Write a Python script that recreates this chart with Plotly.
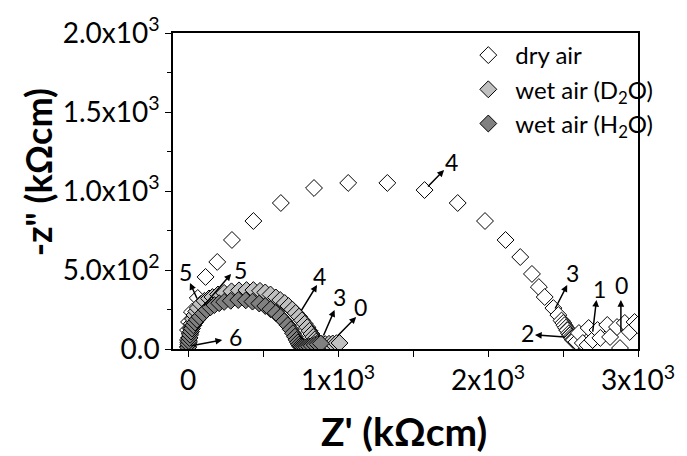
import plotly.graph_objects as go

# ---- data ----
dry_x = [0, 0, 7, 26, 65, 117, 195, 293, 436, 619, 840, 1068, 1329, 1577, 1798, 1980,
         2117, 2215, 2293, 2339, 2378, 2436, 2469, 2490, 2502, 2510, 2520, 2528, 2530,
         2540, 2547, 2548, 2555, 2560, 2562, 2567, 2570, 2573, 2590, 2606, 2632, 2664,
         2671, 2697, 2730, 2749, 2795, 2814, 2860, 2880, 2912, 2945, 2977, 2997]
dry_y = [57, 120, 171, 234, 323, 456, 551, 690, 810, 924, 1019, 1051, 1051, 1006, 924, 810,
         690, 582, 475, 392, 329, 259, 215, 180, 165, 150, 135, 120, 118,
         100, 89, 88, 78, 70, 68, 57, 60, 57, 45, 101, 38, 25,
         133, 57, 120, 70, 152, 76, 139, 6, 165, 108, 171, 152]

d2o_x = [0, 3, 7, 12, 18, 25, 33, 43, 55, 65, 85, 110, 140, 163, 200, 241, 290, 340, 390,
         436, 480, 515, 550, 586, 615, 645, 670, 695, 718, 740, 760, 778, 795, 810, 823,
         835, 845, 855, 865, 878, 895, 915, 940, 965, 990, 1010]
d2o_y = [15, 40, 70, 100, 130, 160, 190, 215, 238, 259, 285, 305, 320, 329, 345, 355, 365,
         371, 373, 373, 368, 358, 345, 326, 310, 291, 272, 250, 228, 205, 182, 160, 138,
         115, 95, 76, 60, 47, 38, 32, 30, 31, 33, 35, 37, 38]

h2o_x = [1, 3, 6, 10, 14, 20, 27, 36, 47, 60, 78, 100, 124, 150, 176, 208, 241, 285, 335,
         385, 430, 475, 515, 550, 585, 615, 642, 665, 685, 700, 713, 724, 733, 741, 748,
         755, 765, 778, 792, 808, 825, 845, 865, 885]
h2o_y = [10, 30, 50, 70, 90, 110, 130, 150, 168, 185, 203, 225, 247, 264, 278, 290, 298,
         305, 310, 308, 300, 288, 272, 252, 228, 203, 176, 150, 124, 100, 78, 58, 42, 28,
         18, 12, 10, 10, 12, 15, 20, 25, 30, 35]

series_names = ["dry air", "wet air (D<sub>2</sub>O)", "wet air (H<sub>2</sub>O)"]
series_colors = ["white", "#c0c0c0", "#808080"]

x_tickvals = [0, 1000, 2000, 3000]
x_ticktext = ["0", "1x10<sup>3</sup>", "2x10<sup>3</sup>", "3x10<sup>3</sup>"]
y_tickvals = [0, 500, 1000, 1500, 2000]
y_ticktext = ["0.0", "5.0x10<sup>2</sup>", "1.0x10<sup>3</sup>", "1.5x10<sup>3</sup>", "2.0x10<sup>3</sup>"]

# labels: text, text position, arrow tail, arrow head (data units)
lab_text = ["4", "5", "5", "4", "3", "0", "6", "3", "1", "0", "2"]
lab_x = [1759, -20, 352, 879, 1010, 1147, 319, 2560, 2743, 2893, 2261]
lab_y = [1184, 487, 500, 462, 329, 266, 76, 481, 380, 405, 101]
tail_x = [1590, 65, 98, 749, 899, 990, 13, 2443, 2697, 2886, 2521]
tail_y = [1019, 310, 266, 234, 76, 76, 19, 247, 101, 101, 76]
head_x = [1707, 13, 287, 860, 977, 1121, 228, 2528, 2723, 2886, 2313]
head_y = [1133, 418, 475, 405, 247, 203, 57, 405, 310, 310, 89]

FONT = "Lato"

fig = go.Figure()
for xs, ys, name, col in zip([dry_x, d2o_x, h2o_x], [dry_y, d2o_y, h2o_y],
                             series_names, series_colors):
    fig.add_trace(go.Scatter(
        x=xs, y=ys, mode="markers", name=name,
        marker=dict(symbol="diamond", size=13, color=col,
                    line=dict(color="black", width=1)),
    ))

annotations = []
for t, lx, ly in zip(lab_text, lab_x, lab_y):
    annotations.append(dict(x=lx, y=ly, xref="x", yref="y", text=t, showarrow=False,
                            font=dict(family=FONT, size=23, color="black")))
for tx, ty, hx, hy in zip(tail_x, tail_y, head_x, head_y):
    annotations.append(dict(x=hx, y=hy, ax=tx, ay=ty, xref="x", yref="y",
                            axref="x", ayref="y", text="", showarrow=True,
                            arrowhead=2, arrowsize=0.9, arrowwidth=1.5,
                            arrowcolor="black", standoff=0, startstandoff=0))

annotations.append(dict(x=-0.29, y=0.56, xref="paper", yref="paper",
                        text="<b>-z\" (k\u03a9cm)</b>", textangle=-90, showarrow=False,
                        xanchor="center", yanchor="middle",
                        font=dict(family=FONT, size=36, color="black")))
annotations.append(dict(x=0.497, y=-0.26, xref="paper", yref="paper",
                        text="<b>Z' (k\u03a9cm)</b>", showarrow=False,
                        xanchor="center", yanchor="middle",
                        font=dict(family=FONT, size=39, color="black")))

fig.update_layout(
    width=687, height=456,
    margin=dict(l=173, r=39, t=33, b=107),
    plot_bgcolor="white", paper_bgcolor="white",
    font=dict(family=FONT, size=28, color="black"),
    showlegend=True,
    legend=dict(x=0.62, y=1.0, xanchor="left", yanchor="top",
                bgcolor="rgba(0,0,0,0)", font=dict(family=FONT, size=24),
                itemwidth=44, tracegroupgap=0),
    annotations=annotations,
)
fig.update_xaxes(range=[-100, 3000], tickmode="array", tickvals=x_tickvals, ticktext=x_ticktext,
                 ticks="outside", ticklen=6, tickwidth=1.2, tickcolor="black",
                 showline=True, linecolor="black", linewidth=1.5, mirror=True,
                 showgrid=False, zeroline=False,
                 minor=dict(tickmode="linear", tick0=0, dtick=500, ticks="outside",
                            ticklen=6, tickcolor="black", tickwidth=1.2, showgrid=False))
fig.update_yaxes(range=[0, 2000], tickmode="array", tickvals=y_tickvals, ticktext=y_ticktext,
                 ticks="outside", ticklen=6, tickwidth=1.2, tickcolor="black",
                 showline=True, linecolor="black", linewidth=1.5, mirror=True,
                 showgrid=False, zeroline=False,
                 minor=dict(tickmode="linear", tick0=0, dtick=250, ticks="outside",
                            ticklen=4, tickcolor="black", tickwidth=1.2, showgrid=False))

fig.write_html("out.html")
